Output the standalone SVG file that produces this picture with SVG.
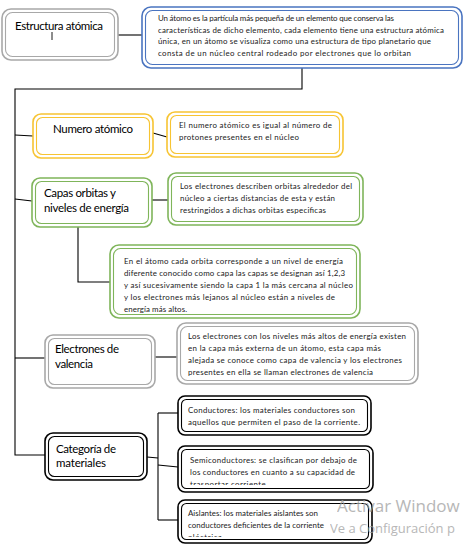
<svg xmlns="http://www.w3.org/2000/svg" width="468" height="549" viewBox="0 0 468 549">
<defs>
<style>
.o{fill:#fff;stroke-width:1.6}
.i{fill:none;stroke-width:1.1}
.gray{stroke:#a8a8a8}
.blue{stroke:#4a74c0}
.yel{stroke:#f7c432}
.grn{stroke:#7fb55a}
.blk{stroke:#000}
.t{font-family:Lato,"Liberation Sans",sans-serif;fill:#000;font-size:11.5px}
.b{font-family:Lato,"Liberation Sans",sans-serif;fill:#1a1a1a;font-size:7.9px}
.c{fill:none;stroke:#000;stroke-width:1.1}
.wm{font-family:"Open Sans","Noto Sans",sans-serif;fill:#a0a0a0;opacity:.75}
</style>
<clipPath id="cSemi"><rect x="182" y="450" width="187" height="35"/></clipPath>
<clipPath id="cAis"><rect x="182" y="504" width="186" height="33"/></clipPath>
</defs>
<rect width="468" height="549" fill="#fff"/>
<g id="connectors">
<path class="c" d="M118,35H142"/>
<path class="c" d="M302,68V89H15V455H45"/>
<path class="c" d="M15,135L33,136"/>
<path class="c" d="M153,133L167,137"/>
<path class="c" d="M15,199L32,201"/>
<path class="c" d="M152,200H168"/>
<path class="c" d="M78,227V282H110"/>
<path class="c" d="M15,358H45"/>
<path class="c" d="M155,357H177"/>
<path class="c" d="M147,457L158,458"/>
<path class="c" d="M158,413V520"/>
<path class="c" d="M158,413H178"/>
<path class="c" d="M158,465L178,467"/>
<path class="c" d="M158,520H178"/>
</g>
<g id="estructura">
<rect class="o gray" x="2" y="9" width="116" height="51" rx="9"/>
<rect class="i gray" x="5.5" y="12.5" width="109" height="44" rx="7"/>
<text class="t" x="15" y="30" textLength="88">Estructura atómica</text>
<line x1="52" y1="32" x2="52" y2="40" stroke="#000" stroke-width="0.9"/>
</g>
<g id="estructura-desc">
<rect class="o blue" x="142" y="7" width="320" height="61" rx="9"/>
<rect class="i blue" x="145.5" y="10.5" width="313" height="54" rx="7"/>
<text class="b" x="158" y="21" textLength="236">Un átomo es la partícula más pequeña de un elemento que conserva las</text>
<text class="b" x="158" y="32.5" textLength="286">características de dicho elemento, cada elemento tiene una estructura atómica</text>
<text class="b" x="158" y="44" textLength="273">única, en un átomo se visualiza como una estructura de tipo planetario que</text>
<text class="b" x="158" y="55.5" textLength="253">consta de un núcleo central rodeado por electrones que lo orbitan</text>
</g>
<g id="numero">
<rect class="o yel" x="33" y="114" width="120" height="44" rx="8"/>
<rect class="i yel" x="36.5" y="117.5" width="113" height="37" rx="6"/>
<text class="t" x="53" y="133" textLength="80">Numero atómico</text>
</g>
<g id="numero-desc">
<rect class="o yel" x="167" y="112" width="176" height="45" rx="8"/>
<rect class="i yel" x="170.5" y="115.5" width="169" height="38" rx="6"/>
<text class="b" x="179" y="128" textLength="153">El numero atómico es igual al número de</text>
<text class="b" x="179" y="140" textLength="120">protones presentes en el núcleo</text>
</g>
<g id="capas">
<rect class="o grn" x="32" y="178" width="120" height="49" rx="8"/>
<rect class="i grn" x="35.5" y="181.5" width="113" height="42" rx="6"/>
<text class="t" x="44" y="197" textLength="72">Capas orbitas y</text>
<text class="t" x="44" y="212" textLength="85">niveles de energía</text>
</g>
<g id="capas-desc">
<rect class="o grn" x="168" y="173" width="195" height="52" rx="8"/>
<rect class="i grn" x="171.5" y="176.5" width="188" height="45" rx="6"/>
<text class="b" x="180" y="189" textLength="172">Los electrones describen orbitas alrededor del</text>
<text class="b" x="180" y="201" textLength="155">núcleo a ciertas distancias de esta y están</text>
<text class="b" x="180" y="212.5" textLength="146">restringidos a dichas orbitas especificas</text>
</g>
<g id="orbitas-desc">
<rect class="o grn" x="110" y="245" width="250" height="73" rx="9"/>
<rect class="i grn" x="113.5" y="248.5" width="243" height="66" rx="7"/>
<text class="b" x="124" y="264" textLength="219">En el átomo cada orbita corresponde a un nivel de energía</text>
<text class="b" x="124" y="276" textLength="221">diferente conocido como capa las capas se designan así 1,2,3</text>
<text class="b" x="124" y="288" textLength="229">y así sucesivamente siendo la capa 1 la más cercana al núcleo</text>
<text class="b" x="124" y="300" textLength="211">y los electrones más lejanos al núcleo están a niveles de</text>
<text class="b" x="124" y="312" textLength="63">energía más altos.</text>
</g>
<g id="valencia">
<rect class="o gray" x="45" y="335" width="110" height="53" rx="8"/>
<rect class="i gray" x="48.5" y="338.5" width="103" height="46" rx="6"/>
<text class="t" x="55" y="353" textLength="64">Electrones de</text>
<text class="t" x="55" y="368" textLength="38">valencia</text>
</g>
<g id="valencia-desc">
<rect class="o gray" x="177" y="323" width="241" height="61" rx="9"/>
<rect class="i gray" x="180.5" y="326.5" width="234" height="54" rx="7"/>
<text class="b" x="188" y="338.5" textLength="218">Los electrones con los niveles más altos de energía existen</text>
<text class="b" x="188" y="350.5" textLength="193">en la capa más externa de un átomo, esta capa más</text>
<text class="b" x="188" y="362.5" textLength="214">alejada se conoce como capa de valencia y los electrones</text>
<text class="b" x="188" y="374.5" textLength="185">presentes en ella se llaman electrones de valencia</text>
</g>
<g id="categoria">
<rect class="o blk" x="45" y="433" width="102" height="47" rx="8"/>
<rect class="i blk" x="48.5" y="436.5" width="95" height="40" rx="6"/>
<text class="t" x="56" y="453" textLength="60">Categoría de</text>
<text class="t" x="56" y="467" textLength="50">materiales</text>
</g>
<g id="conductores">
<rect class="o blk" x="178" y="396" width="193" height="39" rx="7"/>
<rect class="i blk" x="181.5" y="399.5" width="186" height="32" rx="5"/>
<text class="b" x="188" y="413" textLength="167">Conductores: los materiales conductores son</text>
<text class="b" x="188" y="425" textLength="172">aquellos que permiten el paso de la corriente.</text>
</g>
<g id="semiconductores">
<rect class="o blk" x="178" y="446" width="195" height="46" rx="7"/>
<rect class="i blk" x="181.5" y="449.5" width="188" height="39" rx="5"/>
<g clip-path="url(#cSemi)">
<text class="b" x="190" y="463" textLength="167">Semiconductores: se clasifican por debajo de</text>
<text class="b" x="190" y="475" textLength="165">los conductores en cuanto a su capacidad de</text>
<text class="b" x="190" y="487" textLength="78">trasportar corriente.</text>
</g>
</g>
<g id="aislantes">
<rect class="o blk" x="178" y="500" width="194" height="43" rx="7"/>
<rect class="i blk" x="181.5" y="503.5" width="187" height="36" rx="5"/>
<g clip-path="url(#cAis)">
<text class="b" x="188" y="516" textLength="130">Aislantes: los materiales aislantes son</text>
<text class="b" x="188" y="528" textLength="136">conductores deficientes de la corriente</text>
<text class="b" x="188" y="540" textLength="34">eléctrica</text>
</g>
</g>
<text class="wm" x="337" y="512" font-size="17">Activar Window</text>
<text class="wm" x="330" y="533" font-size="13">Ve a Configuración p</text>
</svg>
